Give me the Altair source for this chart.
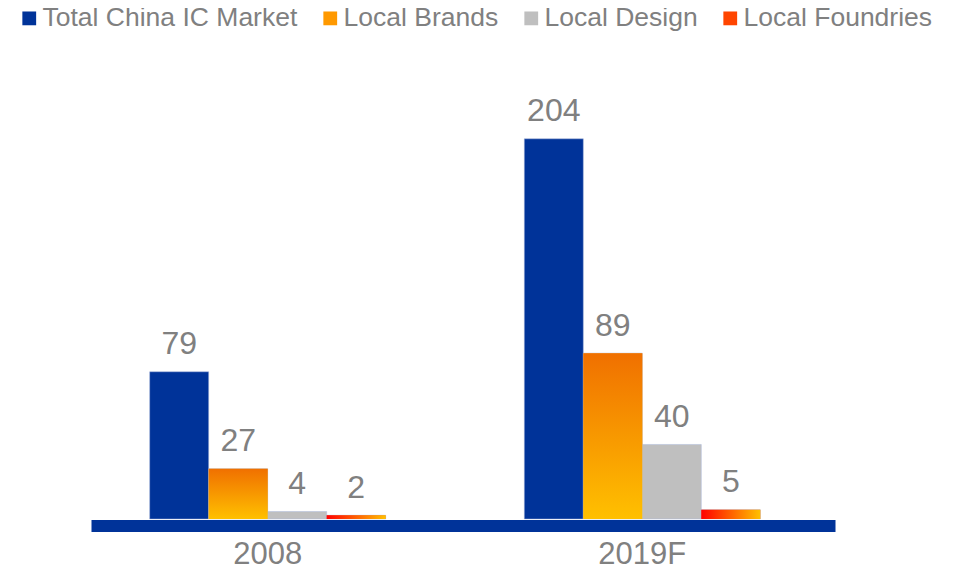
import altair as alt
import pandas as pd

years = ["2008", "2019F"]
series = ["Total China IC Market", "Local Brands", "Local Design", "Local Foundries"]
values_2008 = [79, 27, 4, 2]
values_2019 = [204, 89, 40, 5]
colors = ["#003399", "#FF9900", "#BFBFBF", "#FF4500"]

rows = []
for yr, vals in zip(years, [values_2008, values_2019]):
    for s, v in zip(series, vals):
        rows.append({"year": yr, "series": s, "value": v})
df = pd.DataFrame(rows)

FONT = "Liberation Sans"
GRAY = "#808080"

x_enc = alt.X(
    "year:N",
    scale=alt.Scale(domain=years, paddingInner=0.37, paddingOuter=0.178, align=0.44),
    axis=alt.Axis(
        title=None, labelAngle=0, ticks=False, grid=False,
        domainColor="#003399", domainWidth=12, offset=6.5,
        labelFontSize=31, labelColor=GRAY, labelFont=FONT, labelPadding=14,
    ),
)
xo_enc = alt.XOffset("series:N", scale=alt.Scale(domain=series, paddingInner=0, paddingOuter=0))
y_enc = alt.Y("value:Q", scale=alt.Scale(domain=[0, 220]), axis=None)

base = alt.Chart(df).encode(x=x_enc, xOffset=xo_enc, y=y_enc)

main = base.mark_bar(stroke="#A9B8DB", strokeWidth=0.8, strokeOpacity=0.6).encode(
    color=alt.Color(
        "series:N",
        scale=alt.Scale(domain=series, range=colors),
        legend=alt.Legend(
            title=None, orient="none", legendX=-75, legendY=-104,
            direction="horizontal", columns=4,
            symbolType="square", symbolSize=190, symbolStrokeWidth=0,
            symbolOpacity=1,
            labelFontSize=26.5, labelColor=GRAY, labelFont=FONT, labelLimit=0,
            columnPadding=19, labelOffset=0, padding=0,
        ),
    )
)

brands_grad = alt.Gradient(
    gradient="linear",
    stops=[alt.GradientStop(color="#F07000", offset=0), alt.GradientStop(color="#FFC000", offset=1)],
    x1=0, x2=0, y1=0, y2=1,
)
found_grad = alt.Gradient(
    gradient="linear",
    stops=[alt.GradientStop(color="#FF0000", offset=0), alt.GradientStop(color="#FFC000", offset=1)],
    x1=0, x2=1, y1=0, y2=0,
)

brands = base.mark_bar(color=brands_grad).transform_filter(alt.datum.series == "Local Brands")
found = base.mark_bar(color=found_grad).transform_filter(alt.datum.series == "Local Foundries")

labels = base.mark_text(
    baseline="alphabetic", dy=-17.5, fontSize=32, color=GRAY, font=FONT
).encode(text="value:Q")

chart = alt.layer(main, brands, found, labels).properties(
    width=744, height=410,
    padding={"left": 83, "top": 101, "right": 115, "bottom": 45},
    autosize=alt.AutoSizeParams(type="none"),
).configure(font=FONT, view=alt.ViewConfig(stroke=None, strokeWidth=0))

chart.save("out.html", embed_options={"renderer": "svg", "actions": False})
